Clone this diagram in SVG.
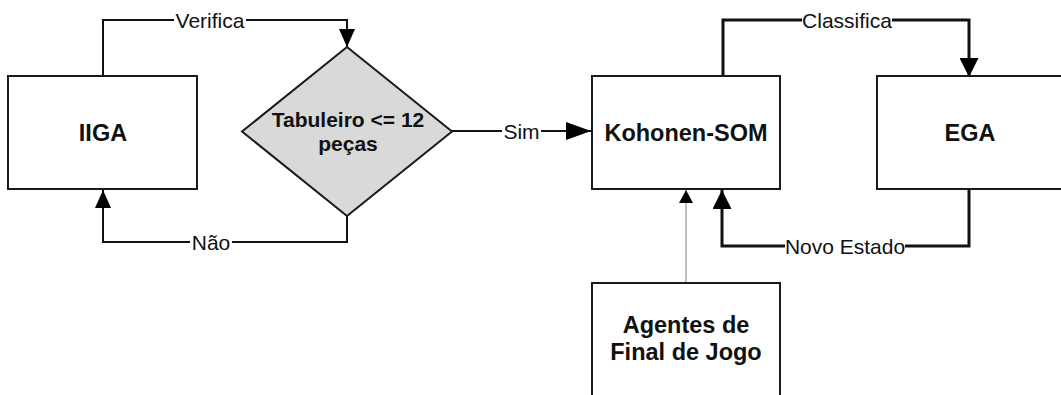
<svg xmlns="http://www.w3.org/2000/svg" width="1061" height="395" viewBox="0 0 1061 395">
  <style>
    .box { fill: #ffffff; stroke: #1a1a1a; stroke-width: 2; }
    .decision { fill: #d9d9d9; stroke: #1a1a1a; stroke-width: 2; }
    .title { font-family: "Liberation Sans", Arial, sans-serif; font-weight: bold; font-size: 23.5px; fill: #111; text-anchor: middle; }
    .cond { font-family: "Liberation Sans", Arial, sans-serif; font-weight: bold; font-size: 21px; fill: #111; text-anchor: middle; }
    .lbl { font-family: "Liberation Sans", Arial, sans-serif; font-size: 21px; fill: #111; text-anchor: middle; }
    .lblbg { fill: #ffffff; }
    .flow { fill: none; stroke: #111; stroke-width: 2; }
    .flow-bold { fill: none; stroke: #111; stroke-width: 3; }
    .flow-thin { fill: none; stroke: #a8a8a8; stroke-width: 1.5; }
  </style>
  <defs>
    <marker id="arrow" markerUnits="userSpaceOnUse" markerWidth="18" markerHeight="16" refX="18" refY="8" orient="auto">
      <path d="M0,0 L18,8 L0,16 z" fill="#000"/>
    </marker>
    <marker id="arrow-sim" markerUnits="userSpaceOnUse" markerWidth="25" markerHeight="18" refX="25" refY="9" orient="auto">
      <path d="M0,0 L25,9 L0,18 z" fill="#000"/>
    </marker>
    <marker id="arrow-bold" markerUnits="userSpaceOnUse" markerWidth="19" markerHeight="19" refX="19" refY="9.5" orient="auto">
      <path d="M0,0 L19,9.5 L0,19 z" fill="#000"/>
    </marker>
    <marker id="arrow-small" markerUnits="userSpaceOnUse" markerWidth="13" markerHeight="14" refX="13" refY="7" orient="auto">
      <path d="M0,0 L13,7 L0,14 z" fill="#000"/>
    </marker>
  </defs>

  <!-- connectors -->
  <g id="connectors">
    <path class="flow" d="M103,76 V20 H347 V47" marker-end="url(#arrow)"/>
    <path class="flow" d="M347,216 V242 H103 V190" marker-end="url(#arrow)"/>
    <path class="flow" d="M452,131 H591" marker-end="url(#arrow-sim)"/>
    <path class="flow-bold" d="M723,76 V20 H969 V77" marker-end="url(#arrow-bold)"/>
    <path class="flow-bold" d="M969,189 V246 H722 V190" marker-end="url(#arrow-bold)"/>
    <path class="flow-thin" d="M686,283 V190" marker-end="url(#arrow-small)"/>

    <!-- connector labels -->
    <rect class="lblbg" x="174" y="10" width="72" height="22"/>
    <text class="lbl" x="210" y="27.5">Verifica</text>
    <rect class="lblbg" x="190" y="232" width="42" height="22"/>
    <text class="lbl" x="211" y="249.5">Não</text>
    <rect class="lblbg" x="502" y="121" width="39" height="22"/>
    <text class="lbl" x="521.5" y="138.5">Sim</text>
    <rect class="lblbg" x="802" y="10" width="90" height="22"/>
    <text class="lbl" x="847" y="27.5">Classifica</text>
    <rect class="lblbg" x="785" y="236" width="120" height="22"/>
    <text class="lbl" x="845" y="253.5">Novo Estado</text>
  </g>

  <!-- nodes -->
  <g id="node-iiga">
    <rect class="box" x="8" y="76" width="189" height="113"/>
    <text class="title" x="103" y="141">IIGA</text>
  </g>

  <g id="node-tabuleiro">
    <polygon class="decision" points="347,47 452,131.5 347,216 242,131.5"/>
    <text class="cond" x="348" y="127">Tabuleiro &lt;= 12</text>
    <text class="cond" x="348" y="151">peças</text>
  </g>

  <g id="node-kohonen">
    <rect class="box" x="592" y="76" width="188" height="113"/>
    <text class="title" x="686" y="141">Kohonen-SOM</text>
  </g>

  <g id="node-ega">
    <rect class="box" x="877" y="76" width="190" height="113"/>
    <text class="title" x="970" y="141">EGA</text>
  </g>

  <g id="node-agentes">
    <rect class="box" x="592" y="283" width="188" height="120"/>
    <text class="title" x="686" y="333">Agentes de</text>
    <text class="title" x="686" y="360">Final de Jogo</text>
  </g>
</svg>
